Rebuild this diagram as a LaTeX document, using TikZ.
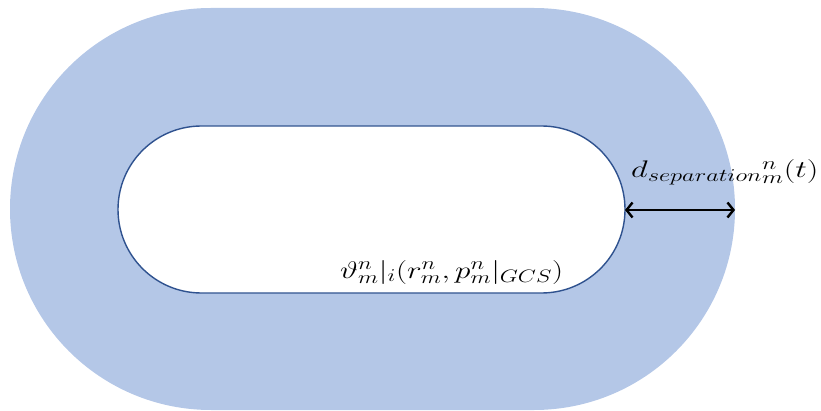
\RequirePackage{fix-cm}
\documentclass[tikz,border=0pt]{standalone}
\usetikzlibrary{arrows.meta}
\DeclareMathSizes{24}{24}{18}{14}
\definecolor{bandblue}{HTML}{B4C7E7}
\definecolor{edgeblue}{HTML}{2F528F}
\newcommand{\widemath}[2][1.3]{\scalebox{#1}[1]{$#2$}}
\tikzset{
  band/.style={fill=bandblue},
  corridor/.style={draw=edgeblue,fill=white,line width=1.4pt},
  gap/.style={line width=2.4pt,{Straight Barb[length=6pt,width=15pt]}-{Straight Barb[length=6pt,width=15pt]}},
  lbl/.style={font=\fontsize{24}{28}\selectfont,inner sep=0pt,anchor=base west}
}
\begin{document}
\begin{tikzpicture}[x=1pt,y=1pt]
\useasboundingbox (0,0) rectangle (821,410);
% outer separation band
\fill[band] (211,402) -- (534,402) arc[start angle=90,end angle=-90,radius=201]
  -- (211,0) arc[start angle=270,end angle=90,radius=201] -- cycle;
% inner region
\draw[corridor] (201.5,284) -- (541.5,284) arc[start angle=90,end angle=-90,radius=83.5]
  -- (201.5,117) arc[start angle=270,end angle=90,radius=83.5] -- cycle;
\coordinate (innerE) at (625,200);
\coordinate (outerE) at (735,200);
\draw[gap] (innerE) -- (outerE);
\node[lbl] (dsep) at (631,232) {\widemath[1.36]{d_{separation}{}_{m}^{n}(t)}};
\node[lbl] (theta) at (340,132) {\widemath{\vartheta_m^n|_i(r_m^n,p_m^n|_{GCS})}};
\end{tikzpicture}
\end{document}
